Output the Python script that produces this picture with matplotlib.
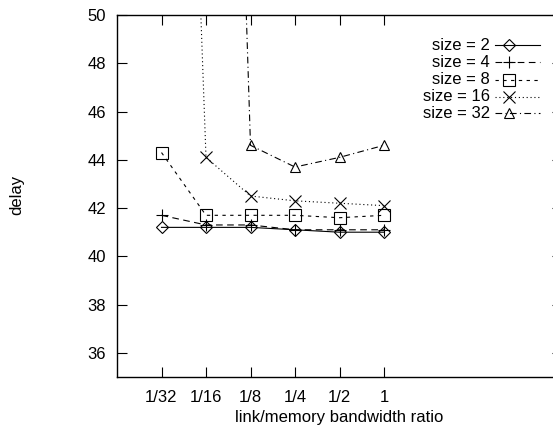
import numpy as np
import matplotlib
matplotlib.use("Agg")
import matplotlib.pyplot as plt

plt.rcParams['font.family'] = ['Liberation Sans', 'DejaVu Sans']

# Data
ratios = ["1/32", "1/16", "1/8", "1/4", "1/2", "1"]
size_labels = ["size = 2", "size = 4", "size = 8", "size = 16", "size = 32"]
delay_2 = [41.2, 41.2, 41.2, 41.1, 41.0, 41.0]
delay_4 = [41.7, 41.3, 41.3, 41.1, 41.1, 41.1]
delay_8 = [44.3, 41.7, 41.7, 41.7, 41.6, 41.7]
delay_16 = [95.0, 44.1, 42.5, 42.3, 42.2, 42.1]
delay_32 = [np.nan, 102.0, 44.6, 43.7, 44.1, 44.6]

series = [delay_2, delay_4, delay_8, delay_16, delay_32]
markers = ['D', '+', 's', 'x', '^']
msizes = [6, 9, 8, 9, 7.5]
styles = ['-', (0, (6, 4)), (0, (3, 4)), (0, (1, 2.5)), (0, (6, 3, 1, 3))]

fig = plt.figure(figsize=(5.53, 4.26), dpi=100)
ax = fig.add_axes([117 / 553, 49 / 426, 445 / 553, 362 / 426])

x = np.arange(len(ratios))
for ys, m, ms, ls in zip(series, markers, msizes, styles):
    ax.plot(x, ys, color='black', linestyle=ls, linewidth=0.8, marker=m,
            markersize=ms, markerfacecolor='none', markeredgecolor='black',
            markeredgewidth=0.8)

ax.set_xlim(-1, 9)
ax.set_ylim(35, 50)
ax.set_xticks(x)
ax.set_xticklabels(ratios)
ax.set_yticks(np.arange(36, 51, 2))
ax.tick_params(direction='in', length=7, width=0.8, top=True, right=True,
               labelsize=12)
ax.tick_params(axis='y', pad=8)
ax.tick_params(axis='x', pad=9)
for s in ax.spines.values():
    s.set_linewidth(1.0)
ax.spines['right'].set_visible(False)

ax.set_xlabel("link/memory bandwidth ratio", fontsize=12, labelpad=4)
fig.text(17 / 553, 1 - 195 / 426, "delay", rotation=90, fontsize=12,
         ha='center', va='center')

# gnuplot-style key: right-aligned text, sample line with marker to the right
row_y = [45, 62.3, 79.7, 96.7, 113.3]
for lab, m, ms, ls, ry in zip(size_labels, markers, msizes, styles, row_y):
    yf = 1 - ry / 426
    fig.text(490 / 553, yf, lab, fontsize=12, ha='right', va='center')
    fig.add_artist(plt.Line2D([495 / 553, 540 / 553], [yf, yf],
                              color='black', linestyle=ls, linewidth=0.8,
                              transform=fig.transFigure))
    fig.add_artist(plt.Line2D([509 / 553], [yf], marker=m, markersize=ms,
                              markerfacecolor='none', markeredgecolor='black',
                              markeredgewidth=0.8, linestyle='none',
                              transform=fig.transFigure))

fig.savefig("out.png", dpi=100)
